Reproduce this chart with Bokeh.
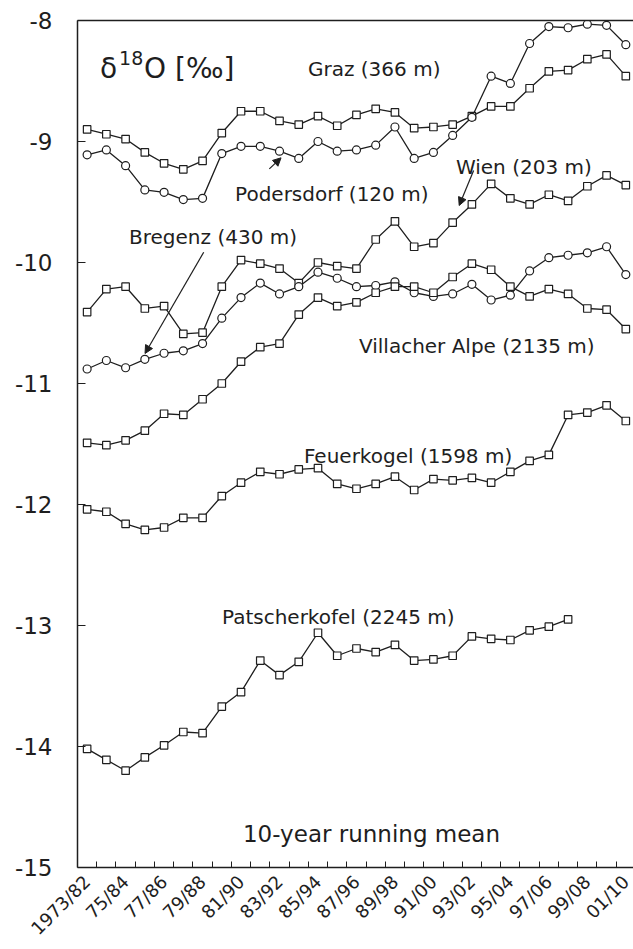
import math
from bokeh.plotting import figure
from bokeh.models import FixedTicker, LinearAxis, Label, Arrow, NormalHead
from bokeh.embed import file_html
from bokeh.resources import INLINE

# ---- data -------------------------------------------------------------
periods = ["1973/82", "1974/83", "1975/84", "1976/85", "1977/86", "1978/87",
           "1979/88", "1980/89", "1981/90", "1982/91", "1983/92", "1984/93",
           "1985/94", "1986/95", "1987/96", "1988/97", "1989/98", "1990/99",
           "1991/00", "1992/01", "1993/02", "1994/03", "1995/04", "1996/05",
           "1997/06", "1998/07", "1999/08", "2000/09", "2001/10"]

tick_labels = ["1973/82", "75/84", "77/86", "79/88", "81/90", "83/92", "85/94",
               "87/96", "89/98", "91/00", "93/02", "95/04", "97/06", "99/08", "01/10"]

y_ticks = [-15, -14, -13, -12, -11, -10, -9, -8]

graz = [-8.90, -8.94, -8.98, -9.09, -9.18, -9.23, -9.16, -8.93, -8.75, -8.75,
        -8.83, -8.86, -8.79, -8.87, -8.78, -8.73, -8.76, -8.89, -8.88, -8.86,
        -8.79, -8.71, -8.71, -8.56, -8.42, -8.41, -8.32, -8.28, -8.46]
podersdorf = [-9.11, -9.07, -9.20, -9.40, -9.42, -9.48, -9.47, -9.10, -9.04, -9.04,
              -9.08, -9.14, -9.00, -9.08, -9.07, -9.03, -8.88, -9.14, -9.09, -8.95,
              -8.80, -8.46, -8.52, -8.19, -8.05, -8.06, -8.03, -8.04, -8.20]
wien = [-10.41, -10.22, -10.20, -10.38, -10.36, -10.59, -10.58, -10.20, -9.98, -10.01,
        -10.05, -10.17, -10.00, -10.03, -10.05, -9.81, -9.66, -9.87, -9.84, -9.67,
        -9.52, -9.35, -9.47, -9.52, -9.44, -9.49, -9.37, -9.28, -9.36]
bregenz = [-10.88, -10.81, -10.87, -10.80, -10.75, -10.73, -10.67, -10.46, -10.29, -10.17,
           -10.26, -10.20, -10.08, -10.13, -10.20, -10.19, -10.16, -10.25, -10.28, -10.26,
           -10.18, -10.31, -10.27, -10.07, -9.96, -9.94, -9.92, -9.87, -10.10]
villacher = [-11.49, -11.51, -11.47, -11.39, -11.25, -11.26, -11.13, -11.00, -10.82, -10.70,
             -10.67, -10.43, -10.29, -10.36, -10.33, -10.25, -10.20, -10.20, -10.25, -10.12,
             -10.01, -10.06, -10.20, -10.28, -10.22, -10.26, -10.38, -10.39, -10.55]
feuerkogel = [-12.04, -12.06, -12.16, -12.21, -12.19, -12.11, -12.11, -11.93, -11.82, -11.73,
              -11.75, -11.71, -11.70, -11.83, -11.87, -11.83, -11.77, -11.88, -11.79, -11.80,
              -11.78, -11.82, -11.73, -11.64, -11.59, -11.26, -11.24, -11.18, -11.31]
patscherkofel = [-14.02, -14.11, -14.20, -14.09, -13.99, -13.88, -13.89, -13.67, -13.55, -13.29,
                 -13.41, -13.30, -13.06, -13.25, -13.19, -13.22, -13.16, -13.29, -13.28, -13.25,
                 -13.09, -13.11, -13.12, -13.04, -13.01, -12.95]

station_names = ["Graz (366 m)", "Podersdorf (120 m)", "Wien (203 m)", "Bregenz (430 m)",
                 "Villacher Alpe (2135 m)", "Feuerkogel (1598 m)", "Patscherkofel (2245 m)"]

# ---- figure -----------------------------------------------------------
INK = "#1e1e1e"
FONT = "DejaVu Sans"

p = figure(width=633, height=949, x_range=(-0.5, 28.4), y_range=(-15, -8),
           output_backend="svg", toolbar_location=None,
           min_border_left=77, min_border_top=20, min_border_right=0,
           min_border_bottom=82, background_fill_color="white")
p.outline_line_color = None
p.xgrid.visible = False
p.ygrid.visible = False

series = [(graz, "square"), (podersdorf, "circle"), (wien, "square"),
          (bregenz, "circle"), (villacher, "square"), (feuerkogel, "square"),
          (patscherkofel, "square")]

for vals, mk in series:
    xs = list(range(len(vals)))
    p.line(xs, vals, line_color=INK, line_width=1.3)
for vals, mk in series:
    xs = list(range(len(vals)))
    p.scatter(xs, vals, marker=mk, size=7.5 if mk == "square" else 8,
              fill_color="white", line_color=INK, line_width=1.2)

# x axis: ticks at category boundaries, labels at every second period
xa = p.xaxis[0]
xa.ticker = FixedTicker(ticks=list(range(0, len(periods), 2)),
                        minor_ticks=[k + 0.5 for k in range(len(periods) - 1)])
xa.major_label_overrides = {i * 2: lab for i, lab in enumerate(tick_labels)}
xa.major_label_orientation = math.pi / 4
xa.major_tick_in = 0
xa.major_tick_out = 0
xa.minor_tick_in = 6
xa.minor_tick_out = 0
xa.minor_tick_line_color = INK
xa.axis_line_color = INK
xa.axis_line_width = 1.5
xa.major_label_text_font = FONT
xa.major_label_text_font_size = "18px"
xa.major_label_text_color = INK
xa.major_label_standoff = 11

ya = p.yaxis[0]
ya.ticker = FixedTicker(ticks=y_ticks)
ya.major_label_overrides = {t: "-%d" % abs(t) for t in y_ticks}
ya.major_tick_in = 8
ya.major_tick_out = 0
ya.minor_tick_in = 0
ya.minor_tick_out = 0
ya.major_tick_line_color = INK
ya.axis_line_color = INK
ya.axis_line_width = 1.5
ya.major_label_text_font = FONT
ya.major_label_text_font_size = "23px"
ya.major_label_text_color = INK
ya.major_label_standoff = 25

top = LinearAxis(ticker=FixedTicker(ticks=[]), axis_line_color=INK, axis_line_width=1.3,
                 major_tick_in=0, major_tick_out=0, minor_tick_in=0, minor_tick_out=0,
                 major_label_text_font_size="0px")
p.add_layout(top, "above")

# ---- annotations --------------------------------------------------------
label_pos = [(11.48, -8.40), (7.69, -9.43), (19.17, -9.21), (2.18, -9.79),
             (14.13, -10.69), (11.27, -11.60), (7.01, -12.93)]
for name, (lx, ly) in zip(station_names, label_pos):
    p.add_layout(Label(x=lx, y=ly, text=name, text_font=FONT, text_font_size="20px",
                       text_color=INK, text_baseline="alphabetic", text_align="left"))

p.add_layout(Label(x=8.10, y=-14.72, text="10-year running mean", text_font=FONT,
                   text_font_size="23px", text_color=INK, text_baseline="alphabetic"))

# delta 18 O title
p.add_layout(Label(x=0.675, y=-8.40, text="δ", text_font=FONT, text_font_size="28px",
                   text_color=INK, text_baseline="alphabetic"))
p.add_layout(Label(x=0.675, y=-8.40, x_offset=19, y_offset=11, text="18", text_font=FONT,
                   text_font_size="19px", text_color=INK, text_baseline="alphabetic"))
p.add_layout(Label(x=0.675, y=-8.40, x_offset=44, text="O [‰]", text_font=FONT,
                   text_font_size="28px", text_color=INK, text_baseline="alphabetic"))

arrows = [(6.06, -9.915, 3.01, -10.752), (9.47, -9.226, 10.08, -9.135),
          (20.09, -9.240, 19.34, -9.529)]
for xs_, ys_, xe_, ye_ in arrows:
    p.add_layout(Arrow(end=NormalHead(size=8, fill_color=INK, line_color=INK),
                       x_start=xs_, y_start=ys_, x_end=xe_, y_end=ye_,
                       line_color=INK, line_width=1.2))

open("out.html", "w").write(file_html(p, INLINE))
